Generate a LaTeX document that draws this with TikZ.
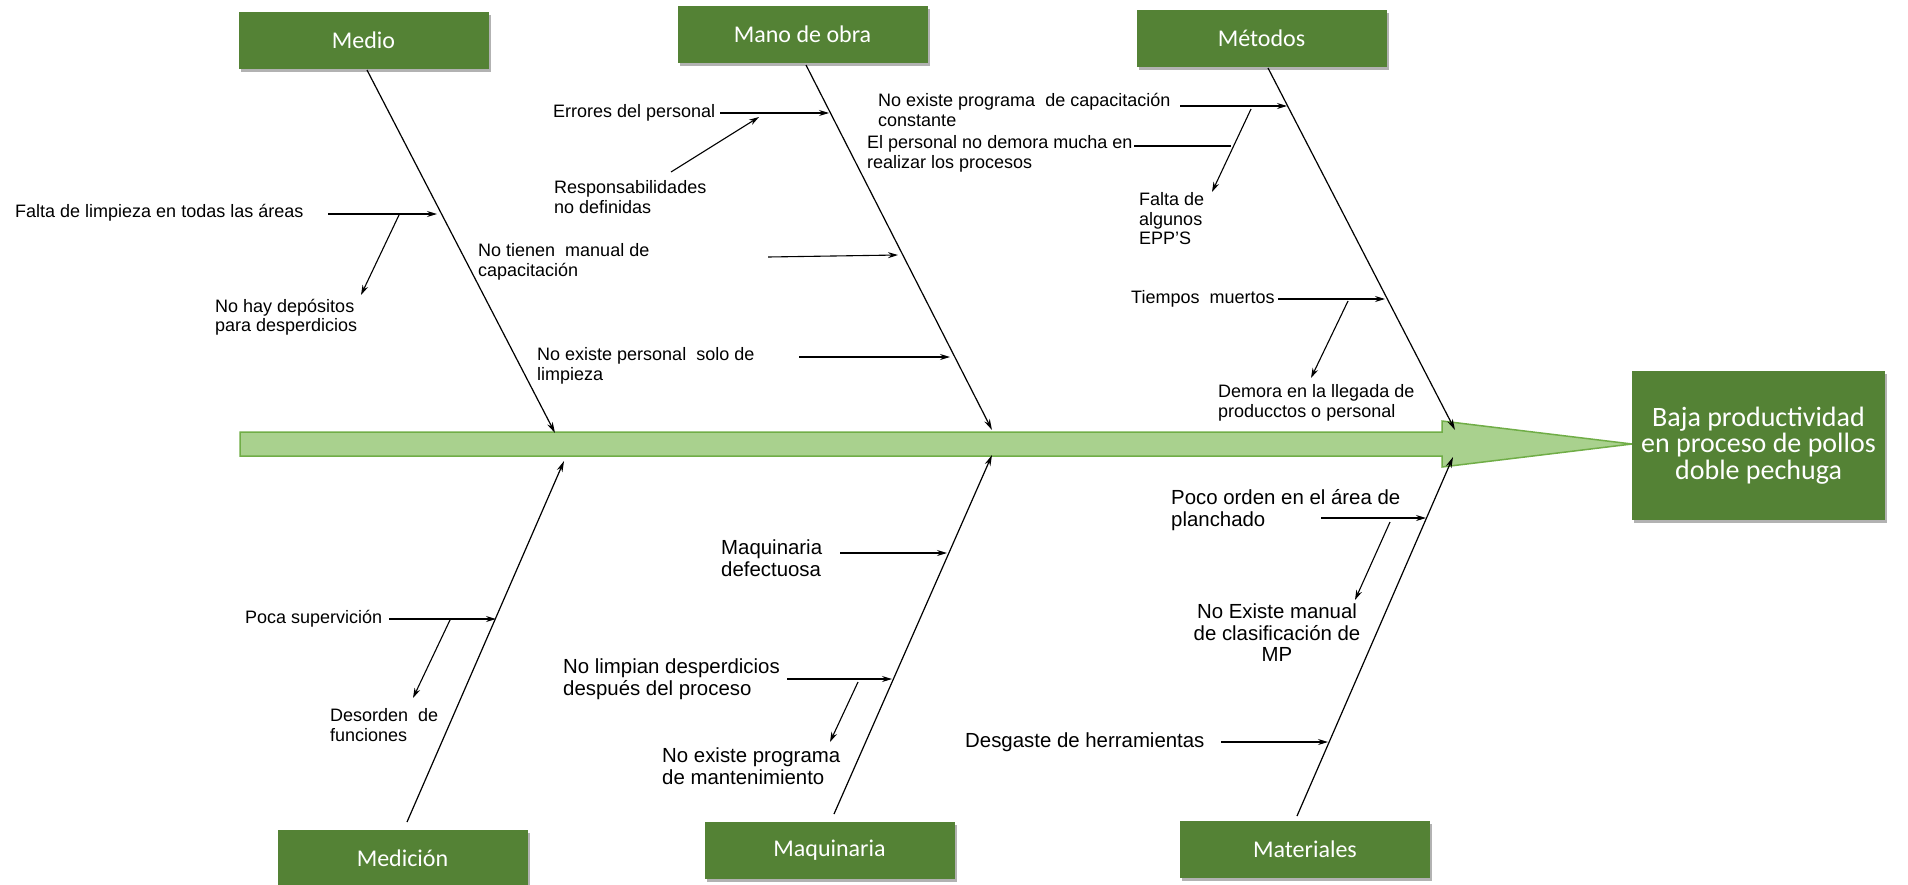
\documentclass[tikz,border=0pt]{standalone}
\usepackage{fontspec}
\setmainfont{Liberation Sans}
\newfontfamily\cali{Carlito}
\usetikzlibrary{arrows.meta,shadows}
\definecolor{boxgreen}{HTML}{548235}
\definecolor{spinefill}{HTML}{A9D18E}
\definecolor{spinedraw}{HTML}{70AD47}
\tikzset{
  catbox/.style={rectangle, fill=boxgreen, text=white, font=\cali\fontsize{24}{26}\selectfont,
    minimum width=250pt, minimum height=57pt, inner sep=0pt,
    drop shadow={shadow xshift=2pt, shadow yshift=-3pt, fill=black, opacity=0.3}},
  effectbox/.style={rectangle, fill=boxgreen, text=white, font=\cali\fontsize{28}{26.5}\selectfont,
    minimum width=253pt, minimum height=149pt, inner sep=0pt, align=center,
    drop shadow={shadow xshift=2pt, shadow yshift=-3pt, fill=black, opacity=0.3}},
  cause/.style={font=\fontsize{18}{19.5}\selectfont, align=left, inner sep=0pt, anchor=west},
  causebig/.style={font=\fontsize{20.4}{21.5}\selectfont, align=left, inner sep=0pt, anchor=west},
  bone/.style={line width=1.2pt, -{Stealth[length=11pt,width=6pt]}},
  subarrow/.style={line width=1.1pt, -{Stealth[length=10pt,width=6pt]}},
  plainline/.style={line width=1.1pt},
  spine/.style={fill=spinefill, draw=spinedraw, line width=1.5pt}
}
\begin{document}
\begin{tikzpicture}[x=1pt,y=-1pt]
\useasboundingbox (0,0) rectangle (1908,884);

% spine
\draw[spine] (240,432) -- (1442,432) -- (1442,421) -- (1632,444) -- (1442,467) -- (1442,456) -- (240,456) -- cycle;

% category boxes
\node[catbox] (medio) at (363.5,40) {Medio};
\node[catbox] (mano) at (802.5,34.5) {Mano de obra};
\node[catbox] (metodos) at (1261.5,38) {Métodos};
\node[catbox] (medicion) at (402.5,858) {Medición};
\node[catbox] (maquinaria) at (829.5,850) {Maquinaria};
\node[catbox] (materiales) at (1305,849) {Materiales};
\node[effectbox] (baja) at (1758.5,445.5) {Baja productividad\\en proceso de pollos\\doble pechuga};

% bone coordinates
\coordinate (medioS) at (367,70);   \coordinate (medioT) at (555,433);
\coordinate (manoS) at (806,65);    \coordinate (manoT) at (992,430);
\coordinate (metS) at (1268,68);    \coordinate (metT) at (1455,430);
\coordinate (medS) at (407,822);    \coordinate (medT) at (564,461);
\coordinate (maqS) at (834,814);    \coordinate (maqT) at (992,455);
\coordinate (matS) at (1297,816);   \coordinate (matT) at (1453,457);

\draw[bone] (medioS) -- (medioT);
\draw[bone] (manoS) -- (manoT);
\draw[bone] (metS) -- (metT);
\draw[bone] (medS) -- (medT);
\draw[bone] (maqS) -- (maqT);
\draw[bone] (matS) -- (matT);

% cause texts
\node[cause] (falta) at (15,213) {Falta de limpieza en todas las áreas};
\node[cause] (nohay) at (215,317) {No hay depósitos\\para desperdicios};
\node[cause] (notienen) at (478,262) {No tienen\ \ manual de\\capacitación};
\node[cause] (noexpers) at (537,366) {No existe personal\ \ solo de\\limpieza};
\node[cause] (errores) at (553,113) {Errores del personal};
\node[cause] (respons) at (554,197) {Responsabilidades\\no definidas};
\node[cause] (noexprog) at (878,110) {No existe programa\ \ de capacitación\\constante};
\node[cause] (elpers) at (867,154) {El personal no demora mucha en\\realizar los procesos};
\node[cause] (faltaepp) at (1139,219) {Falta de\\algunos\\EPP'S};
\node[cause] (tiempos) at (1131,299) {Tiempos\ \ muertos};
\node[cause] (demora) at (1218,403) {Demora en la llegada de\\producctos o personal};
\node[cause] (poca) at (245,619) {Poca supervición};
\node[cause] (desorden) at (330,725) {Desorden\ \ de\\funciones};

\node[causebig] (maqdef) at (721,558) {Maquinaria\\defectuosa};
\node[causebig] (nolimpian) at (563,679) {No limpian desperdicios\\después del proceso};
\node[causebig] (noexmant) at (662,766) {No existe programa\\de mantenimiento};
\node[causebig] (desgaste) at (965,742) {Desgaste de herramientas};
\node[causebig] (pocoorden) at (1171,510) {Poco orden en el área de\\planchado};
\node[causebig, anchor=center, align=center] (noexman) at (1277,633) {No Existe manual\\de clasificación de\\MP};

% cause arrow coordinates
\coordinate (a1s) at (328,214);  \coordinate (a1e) at (437,214);
\coordinate (a1bs) at (399,215); \coordinate (a1be) at (361,295);
\coordinate (a2s) at (720,113);  \coordinate (a2e) at (829,113);
\coordinate (a3s) at (671,172);  \coordinate (a3e) at (759,117);
\coordinate (a4s) at (768,257);  \coordinate (a4e) at (898,255);
\coordinate (a5s) at (799,357);  \coordinate (a5e) at (950,357);
\coordinate (a6s) at (1180,106); \coordinate (a6e) at (1287,106);
\coordinate (a7s) at (1134,146); \coordinate (a7e) at (1231,146);
\coordinate (a7bs) at (1251,109); \coordinate (a7be) at (1212,192);
\coordinate (a8s) at (1278,299); \coordinate (a8e) at (1385,299);
\coordinate (a8bs) at (1348,301); \coordinate (a8be) at (1311,378);
\coordinate (a9s) at (389,619);  \coordinate (a9e) at (496,619);
\coordinate (a9bs) at (450,620); \coordinate (a9be) at (413,698);
\coordinate (a10s) at (840,553); \coordinate (a10e) at (947,553);
\coordinate (a11s) at (787,679); \coordinate (a11e) at (892,679);
\coordinate (a11bs) at (858,682); \coordinate (a11be) at (830,742);
\coordinate (a12s) at (1321,518); \coordinate (a12e) at (1426,518);
\coordinate (a12bs) at (1390,522); \coordinate (a12be) at (1355,600);
\coordinate (a13s) at (1221,742); \coordinate (a13e) at (1328,742);

\draw[subarrow] (a1s) -- (a1e);
\draw[subarrow] (a1bs) -- (a1be);
\draw[subarrow] (a2s) -- (a2e);
\draw[subarrow] (a3s) -- (a3e);
\draw[subarrow] (a4s) -- (a4e);
\draw[subarrow] (a5s) -- (a5e);
\draw[subarrow] (a6s) -- (a6e);
\draw[plainline] (a7s) -- (a7e);
\draw[subarrow] (a7bs) -- (a7be);
\draw[subarrow] (a8s) -- (a8e);
\draw[subarrow] (a8bs) -- (a8be);
\draw[subarrow] (a9s) -- (a9e);
\draw[subarrow] (a9bs) -- (a9be);
\draw[subarrow] (a10s) -- (a10e);
\draw[subarrow] (a11s) -- (a11e);
\draw[subarrow] (a11bs) -- (a11be);
\draw[subarrow] (a12s) -- (a12e);
\draw[subarrow] (a12bs) -- (a12be);
\draw[subarrow] (a13s) -- (a13e);
\end{tikzpicture}
\end{document}
